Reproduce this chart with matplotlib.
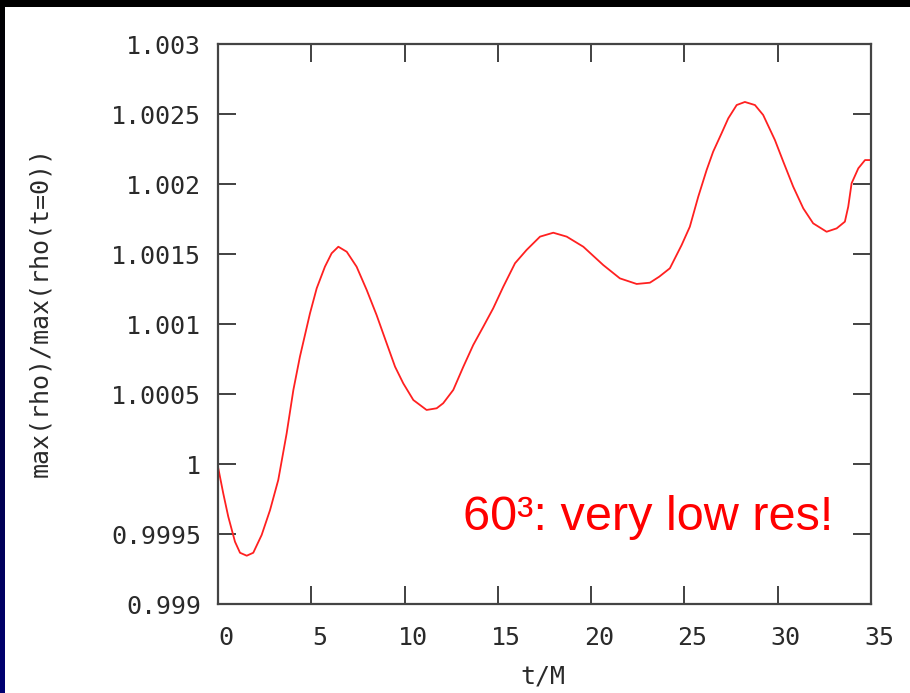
import numpy as np
import matplotlib
matplotlib.use('Agg')
import matplotlib.pyplot as plt
from matplotlib.transforms import ScaledTranslation

# max(rho)/max(rho(t=0)) gegen t/M
t = [0.0, 0.28, 0.55, 0.91, 1.18, 1.54, 1.89, 2.34, 2.79, 3.23, 3.68, 4.04,
     4.39, 4.93, 5.29, 5.73, 6.09, 6.45, 6.9, 7.43, 7.97, 8.5, 9.04, 9.49,
     9.93, 10.47, 11.18, 11.72, 12.07, 12.61, 13.15, 13.68, 14.22, 14.75,
     15.29, 15.92, 16.54, 17.26, 17.97, 18.69, 19.58, 20.65, 21.54, 22.44,
     23.15, 23.65, 24.22, 24.85, 25.29, 25.74, 26.19, 26.54, 26.99, 27.35,
     27.8, 28.24, 28.78, 29.22, 29.85, 30.3, 30.83, 31.37, 31.9, 32.62,
     33.16, 33.6, 33.78, 33.96, 34.32, 34.68, 35.0]
rho = [0.99998, 0.999791, 0.999624, 0.999445, 0.999366, 0.999345, 0.999366,
       0.999493, 0.999671, 0.999886, 1.000219, 1.000529, 1.000766, 1.001076,
       1.001255, 1.001409, 1.001505, 1.001552, 1.001516, 1.001409, 1.001243,
       1.001064, 1.000862, 1.000695, 1.000576, 1.000457, 1.000386, 1.000398,
       1.000434, 1.000529, 1.000695, 1.00085, 1.000981, 1.001112, 1.001266,
       1.001434, 1.001529, 1.001624, 1.001652, 1.001624, 1.001552, 1.001421,
       1.001326, 1.001286, 1.001295, 1.001338, 1.001398, 1.001564, 1.001695,
       1.001909, 1.0021, 1.002231, 1.002362, 1.002469, 1.002564, 1.002586,
       1.002564, 1.002493, 1.002314, 1.002159, 1.001981, 1.001826, 1.001719,
       1.001659, 1.001683, 1.001731, 1.001838, 1.002005, 1.002112, 1.002171,
       1.002171]

xticks = [0, 5, 10, 15, 20, 25, 30, 35]
yticks = [0.999, 0.9995, 1.0, 1.0005, 1.001, 1.0015, 1.002, 1.0025, 1.003]
ylabels = ['0.999', '0.9995', '1', '1.0005', '1.001', '1.0015', '1.002', '1.0025', '1.003']

mono = 'DejaVu Sans Mono'
fs = 18
tc = '#2a2a2a'

fig = plt.figure(figsize=(9.1, 6.93), dpi=100)
fig.patch.set_facecolor('white')

# schwarzer Rand oben, blauer Verlauf links
band = fig.add_axes([0, 1 - 7/693, 1, 7/693])
band.add_patch(plt.Rectangle((0, 0), 1, 1, color='black', transform=band.transAxes))
band.axis('off')
strip = fig.add_axes([0, 0, 5/910, 1])
grad = np.linspace(0, 1, 256).reshape(-1, 1)
strip.imshow(np.dstack([0*grad, 0*grad, 0.45*grad]), aspect='auto',
             extent=[0, 1, 0, 1])
strip.axis('off')

ax = fig.add_axes([218/910, 89/693, 653/910, 560/693])
ax.plot(t, rho, color='#ff2020', lw=1.3)
ax.set_xlim(0, 35)
ax.set_ylim(0.999, 1.003)
ax.set_xticks(xticks)
ax.set_xticklabels([str(v) for v in xticks], fontfamily=mono, fontsize=fs, color=tc)
ax.set_yticks(yticks)
ax.set_yticklabels(ylabels, fontfamily=mono, fontsize=fs, color=tc)
ax.tick_params(direction='in', length=13, width=1.3, color='#333333',
               top=True, right=True, pad=12)
ax.tick_params(axis='x', pad=16)
for s in ax.spines.values():
    s.set_linewidth(1.6)
    s.set_color('#444444')

off = ScaledTranslation(8/100, 0, fig.dpi_scale_trans)
for lab in ax.get_xticklabels():
    lab.set_transform(lab.get_transform() + off)

fig.text(543/910, 1 - 677/693, 't/M', ha='center', va='center',
         fontfamily=mono, fontsize=fs, color=tc)
fig.text(40/910, 1 - 312/693, 'max(rho)/max(rho(t=0))', rotation=90,
         ha='center', va='center', fontfamily=mono, fontsize=fs, color=tc)

fig.text(463/910, 1 - 530/693, '60³: very low res!', color='red',
         fontfamily='Liberation Sans', fontsize=35, ha='left', va='baseline')

fig.savefig('out.png', dpi=100)
